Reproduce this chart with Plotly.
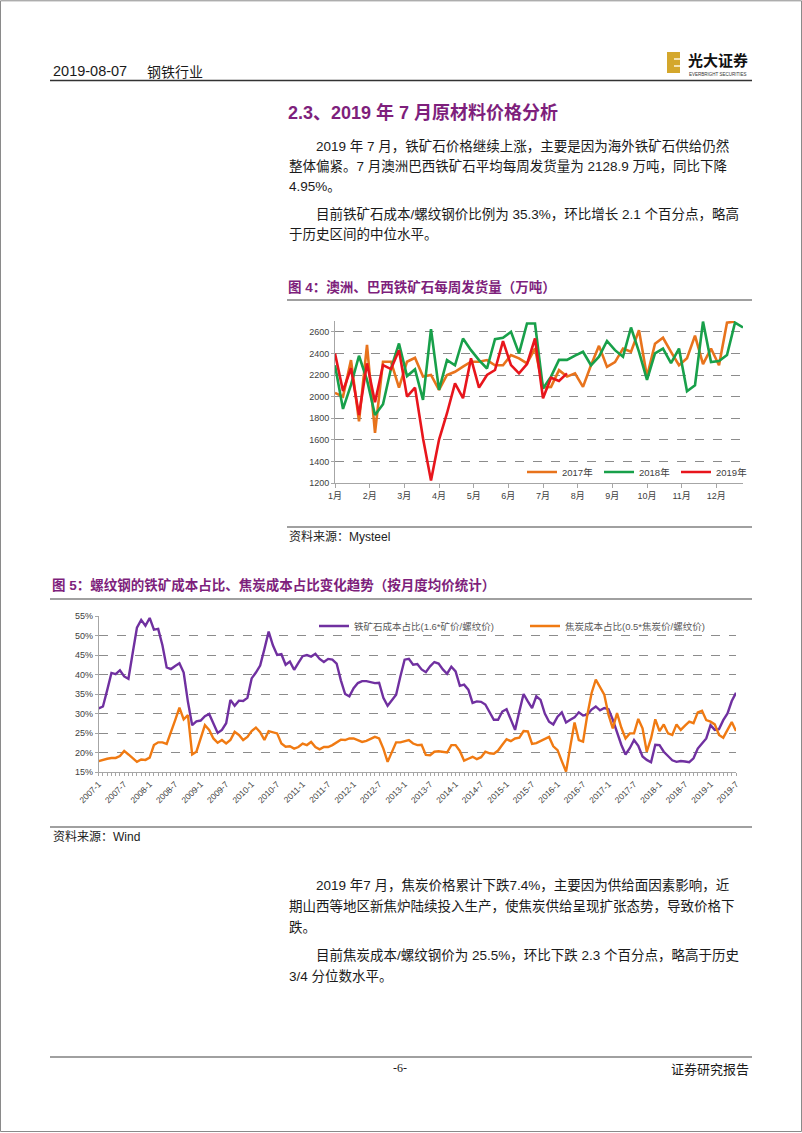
import plotly.graph_objects as go

W, H = 802, 1133


def px(x):
    return x / W


def py(y):
    return 1 - y / H


# ---------------- data: chart 1 (weekly shipments, 万吨) ----------------
months_cn = ["1月", "2月", "3月", "4月", "5月", "6月", "7月", "8月", "9月", "10月", "11月", "12月"]
series_names_1 = ["2017年", "2018年", "2019年"]
ship_2017 = [2035, 2000, 2338, 1770, 2478, 1665, 2323, 2323, 2083, 2323,
             2360, 2185, 2200, 2062, 2200, 2230, 2277, 2323, 2323, 2338,
             2290, 2290, 2385, 2354, 2308, 2446, 2085, 2090, 2245, 2185,
             2215, 2090, 2290, 2470, 2275, 2320, 2445, 2415, 2615, 2185,
             2490, 2545, 2415, 2290, 2355, 2565, 2300, 2445, 2290, 2685, 2695]
ship_2018 = [2290, 1886, 2108, 2378, 2154, 1830, 1930, 2260, 2492, 2190,
             2252, 1970, 2625, 2062, 2338, 2290, 2538, 2430, 2338, 2260,
             2532, 2545, 2600, 2400, 2677, 2677, 2075, 2185, 2340, 2340,
             2380, 2415, 2290, 2370, 2515, 2430, 2370, 2640, 2415, 2155,
             2400, 2445, 2310, 2445, 2050, 2105, 2695, 2320, 2330, 2385,
             2685, 2640]
ship_2019 = [2400, 2052, 2262, 1830, 2308, 1948, 2292, 2255, 2430, 2000,
             2083, 1615, 1222, 1600, 1846, 2123, 1985, 2354, 2083, 2200,
             2246, 2514, 2292, 2215, 2300, 2538, 1985, 2175, 2145, 2215]

# ---------------- data: chart 2 (monthly cost ratio, %) ----------------
years = list(range(2007, 2020))
month_labels = [f"{y}-{m}" for y in years for m in range(1, 13)][:151]  # 2007-1 .. 2019-7
series_names_2 = ["铁矿石成本占比(1.6*矿价/螺纹价)", "焦炭成本占比(0.5*焦炭价/螺纹价)"]
iron_ratio = [31.3, 31.8, 36.0, 40.4, 40.1, 41.1, 39.5, 38.9, 45.5, 52.0,
              54.0, 52.5, 54.5, 51.5, 51.7, 47.5, 41.8, 41.4, 42.2, 42.9,
              40.5, 33.0, 27.0, 28.0, 28.2, 29.3, 29.9, 27.3, 25.0, 25.8,
              27.5, 33.5, 32.0, 33.3, 33.2, 34.0, 39.0, 40.5, 42.3, 46.5,
              51.0, 47.5, 45.0, 45.2, 42.5, 43.3, 41.2, 43.0, 44.7, 45.0,
              44.6, 45.3, 44.0, 43.2, 44.0, 43.8, 42.8, 38.5, 35.0, 34.4,
              36.5, 37.8, 38.3, 38.3, 38.0, 37.8, 37.9, 34.0, 32.0, 33.3,
              34.8, 39.5, 43.8, 44.0, 42.5, 42.7, 41.3, 40.6, 42.1, 43.2,
              42.8, 41.3, 40.2, 42.0, 40.8, 37.1, 37.4, 36.1, 32.7, 33.1,
              33.0, 32.3, 30.5, 28.4, 28.4, 30.5, 31.1, 28.4, 25.8, 30.5,
              35.0, 33.1, 31.4, 34.4, 33.5, 30.0, 27.9, 27.2, 29.2, 30.3,
              27.7, 28.4, 29.0, 30.3, 29.5, 29.7, 31.0, 31.8, 30.8, 31.4,
              31.1, 28.4, 25.0, 22.0, 19.5, 21.1, 23.2, 21.7, 19.0, 18.1,
              17.5, 22.0, 21.9, 20.2, 19.1, 18.0, 17.6, 17.8, 17.7, 17.5,
              18.5, 21.0, 22.3, 23.6, 27.0, 25.8, 26.0, 28.3, 30.0, 33.2,
              35.3]
coke_ratio = [17.8, 18.2, 18.4, 18.6, 18.6, 19.1, 20.4, 19.5, 18.5, 17.6,
              18.2, 18.1, 18.7, 21.9, 22.6, 22.6, 22.2, 25.0, 28.3, 31.5,
              28.5, 29.6, 19.5, 20.2, 23.6, 27.0, 25.8, 23.6, 22.5, 23.2,
              22.3, 23.2, 25.3, 24.5, 23.2, 24.0, 25.5, 26.4, 25.2, 23.2,
              25.5, 25.2, 24.9, 22.3, 21.5, 21.6, 21.0, 21.4, 22.3, 21.9,
              22.7, 21.4, 20.8, 21.4, 21.4, 21.9, 22.7, 23.3, 23.2, 23.6,
              23.6, 23.2, 22.7, 23.0, 23.6, 24.0, 23.6, 21.0, 17.6, 20.2,
              22.6, 22.6, 22.9, 23.2, 22.3, 21.9, 22.0, 19.4, 19.3, 20.2,
              20.3, 20.2, 20.0, 21.9, 21.9, 20.4, 17.9, 18.4, 18.9, 18.3,
              18.8, 20.2, 19.8, 19.7, 20.5, 22.0, 23.4, 22.9, 23.6, 23.8,
              25.5, 25.4, 22.2, 22.4, 22.9, 23.4, 24.0, 21.6, 20.6, 17.8,
              15.1, 21.5, 27.7, 23.2, 22.8, 29.6, 35.2, 38.7, 36.7, 34.8,
              29.6, 26.2, 30.1, 26.4, 23.6, 24.9, 24.9, 28.6, 26.2, 20.2,
              23.6, 28.5, 25.5, 27.2, 24.9, 24.5, 27.2, 25.8, 26.9, 27.9,
              27.5, 30.3, 30.7, 28.3, 27.9, 27.2, 24.5, 23.8, 25.8, 27.8,
              25.5]

# ---------------- styles ----------------
C17, C18, C19 = "#E8731C", "#18A04A", "#E8151C"
CPUR, CORG = "#7030A0", "#F07A12"
PURPLE_TXT = "#7E1F7C"
AX = "#A6A6A6"
GRID = "#8C8C8C"
TICKC = "#404040"
FONT = "Liberation Sans, Noto Sans CJK SC, sans-serif"
CJK = "Noto Sans CJK SC, sans-serif"

fig = go.Figure()

weeks = [list(range(len(s))) for s in (ship_2017, ship_2018, ship_2019)]
for name, xs, ys, col in zip(series_names_1, weeks, (ship_2017, ship_2018, ship_2019), (C17, C18, C19)):
    fig.add_trace(go.Scatter(x=xs, y=ys, mode="lines", name=name,
                             line=dict(color=col, width=2.6),
                             xaxis="x", yaxis="y", legend="legend"))

idx = list(range(len(month_labels)))
for name, ys, col in zip(series_names_2, (iron_ratio, coke_ratio), (CPUR, CORG)):
    fig.add_trace(go.Scatter(x=idx, y=ys, mode="lines", name=name,
                             line=dict(color=col, width=2.4),
                             xaxis="x2", yaxis="y2", legend="legend2"))

month_ticks = [m * 52 / 12 for m in range(12)]
tick2 = list(range(0, 151, 6))

fig.update_layout(
    width=W, height=H, autosize=False,
    margin=dict(l=0, r=0, t=0, b=0),
    paper_bgcolor="white", plot_bgcolor="white",
    font=dict(family=FONT, color=TICKC),
    xaxis=dict(domain=[px(335), px(743)], anchor="y", range=[0, 51],
               tickmode="array", tickvals=month_ticks, ticktext=months_cn,
               showline=True, linecolor=AX, linewidth=1,
               ticks="outside", ticklen=4, tickcolor=AX,
               showgrid=False, zeroline=False, automargin=False,
               tickfont=dict(size=9, color=TICKC, family=FONT)),
    yaxis=dict(domain=[py(483), py(321)], anchor="x", range=[1200, 2700],
               tickmode="linear", tick0=1200, dtick=200,
               showline=True, linecolor=AX, linewidth=1,
               ticks="outside", ticklen=3, tickcolor=AX,
               showgrid=True, gridcolor=GRID, griddash="dash", gridwidth=1,
               zeroline=False, automargin=False,
               tickfont=dict(size=9, color=TICKC, family=FONT)),
    xaxis2=dict(domain=[px(98.7), px(736)], anchor="y2", range=[0, 150],
                tickmode="array", tickvals=tick2, ticktext=[month_labels[i] for i in tick2],
                tickangle=-45,
                showline=True, linecolor=AX, linewidth=1,
                ticks="outside", ticklen=3, tickcolor=AX,
                minor=dict(tickmode="linear", tick0=0, dtick=1, ticks="outside",
                           ticklen=3, tickcolor=AX, showgrid=False),
                showgrid=False, zeroline=False, automargin=False,
                tickfont=dict(size=8.5, color=TICKC, family=FONT)),
    yaxis2=dict(domain=[py(772), py(616)], anchor="x2", range=[15, 55],
                tickmode="linear", tick0=15, dtick=5, ticksuffix="%",
                showline=True, linecolor=AX, linewidth=1,
                ticks="outside", ticklen=3, tickcolor=AX,
                showgrid=True, gridcolor=GRID, griddash="dash", gridwidth=1,
                zeroline=False, automargin=False,
                tickfont=dict(size=9, color=TICKC, family=FONT)),
    legend=dict(x=px(522), y=py(472), xanchor="left", yanchor="middle",
                orientation="h", bgcolor="rgba(0,0,0,0)", borderwidth=0,
                entrywidth=32, entrywidthmode="pixels", itemwidth=30,
                font=dict(size=9.5, color=TICKC, family=FONT)),
    legend2=dict(x=px(314), y=py(626), xanchor="left", yanchor="middle",
                 orientation="h", bgcolor="rgba(0,0,0,0)", borderwidth=0,
                 entrywidth=166, entrywidthmode="pixels", itemwidth=30,
                 font=dict(size=9.5, color="#595959", family=FONT)),
    showlegend=True,
)

# ---------------- page decorations ----------------
shapes = []


def hline(x0, x1, y, color, width):
    shapes.append(dict(type="line", xref="paper", yref="paper",
                       x0=px(x0), x1=px(x1), y0=py(y), y1=py(y),
                       line=dict(color=color, width=width)))


shapes.append(dict(type="rect", xref="paper", yref="paper",
                   x0=px(0.5), x1=px(801.5), y0=py(1131.5), y1=py(0.8),
                   line=dict(color="#8A8A8A", width=1), fillcolor="rgba(0,0,0,0)"))
hline(50, 752, 80.5, "#333333", 1.6)        # header rule
hline(287, 752, 300, "#A0A0A0", 2)          # under fig 4 caption
hline(287, 752, 527, "#A0A0A0", 2)          # above fig 4 source
hline(50, 752, 599, "#A0A0A0", 2)           # under fig 5 caption
hline(50, 752, 827, "#A0A0A0", 2)           # above fig 5 source
hline(50, 752, 1057, "#A0A0A0", 2)          # footer rule
# logo mark
shapes.append(dict(type="rect", xref="paper", yref="paper",
                   x0=px(667), x1=px(680), y0=py(73), y1=py(52),
                   line=dict(width=0), fillcolor="#D4A72C"))
for yy in (59, 66):
    shapes.append(dict(type="line", xref="paper", yref="paper",
                       x0=px(674), x1=px(680), y0=py(yy), y1=py(yy),
                       line=dict(color="#F4E2B0", width=2)))
fig.update_layout(shapes=shapes)

ann = []


def text(x, y, s, size=13.5, color="#1A1A1A", anchor="left", family=FONT, bold=False):
    if bold:
        s = f"<b>{s}</b>"
    ann.append(dict(x=px(x), y=py(y), xref="paper", yref="paper", text=s,
                    showarrow=False, xanchor=anchor, yanchor="middle",
                    font=dict(size=size, color=color, family=family)))


text(51, 71, "2019-08-07", size=14.5, family="Liberation Sans Narrow, Liberation Sans, sans-serif")
text(145, 71, "钢铁行业", size=14, family=CJK)
text(686, 59.5, "光大证券", size=15, color="#111111", family="Noto Sans CJK SC", bold=True)
text(717, 74.5, "EVERBRIGHT SECURITIES", size=4.5, color="#333333", anchor="center")

text(286, 112, "2.3、2019 年 7 月原材料价格分析", size=18, color=PURPLE_TXT, bold=True)

text(314, 146, "2019 年 7 月，铁矿石价格继续上涨，主要是因为海外铁矿石供给仍然")
text(287, 166, "整体偏紧。7 月澳洲巴西铁矿石平均每周发货量为 2128.9 万吨，同比下降")
text(287, 186, "4.95%。")
text(314, 214, "目前铁矿石成本/螺纹钢价比例为 35.3%，环比增长 2.1 个百分点，略高")
text(287, 234, "于历史区间的中位水平。")

text(286, 287, "图 4：澳洲、巴西铁矿石每周发货量（万吨）", size=13.5, color=PURPLE_TXT, bold=True)
text(287, 537, "资料来源：Mysteel", size=12, color="#222222")

text(50, 585, "图 5：螺纹钢的铁矿成本占比、焦炭成本占比变化趋势（按月度均价统计）", size=13.5,
     color=PURPLE_TXT, bold=True)
text(51, 837, "资料来源：Wind", size=12, color="#222222")

text(314, 885, "2019 年7 月，焦炭价格累计下跌7.4%，主要因为供给面因素影响，近")
text(287, 906, "期山西等地区新焦炉陆续投入生产，使焦炭供给呈现扩张态势，导致价格下")
text(287, 927, "跌。")
text(314, 955, "目前焦炭成本/螺纹钢价为 25.5%，环比下跌 2.3 个百分点，略高于历史")
text(287, 976, "3/4 分位数水平。")

text(400, 1068, "-6-", size=12, anchor="center", family="Liberation Serif, serif")
text(751, 1068, "证券研究报告", size=13, anchor="right", family=CJK)

fig.update_layout(annotations=ann)

fig.write_html("out.html")
